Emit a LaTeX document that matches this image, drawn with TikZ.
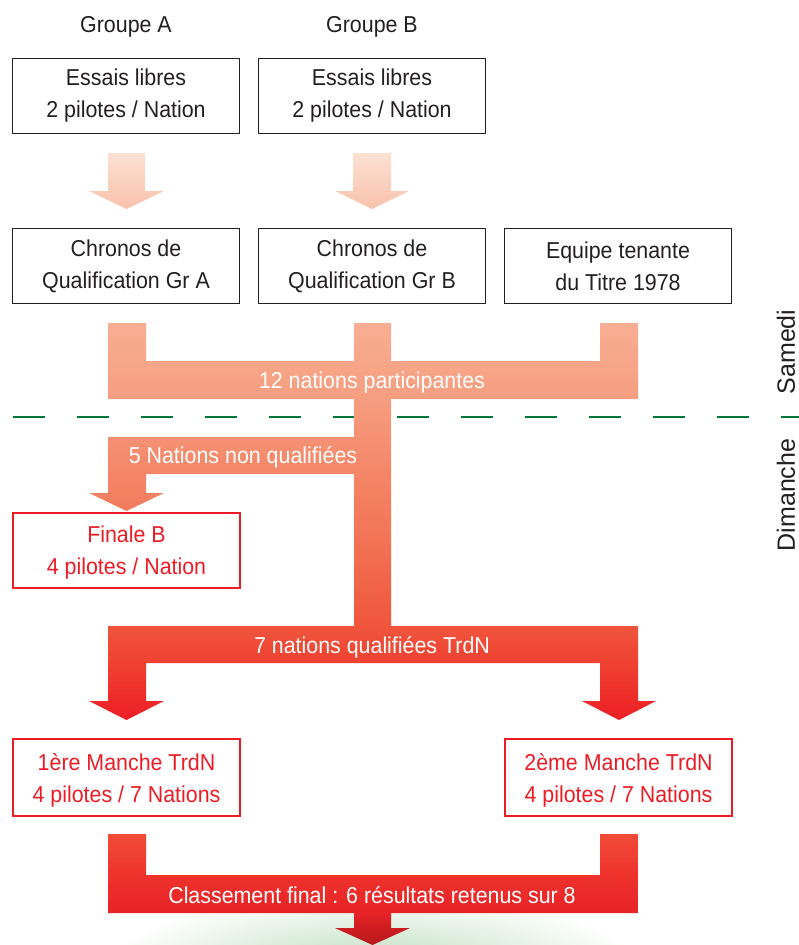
\documentclass[tikz,border=0pt]{standalone}
\usepackage{fontspec}
\setmainfont{Liberation Sans}[FakeStretch=0.93]
\newfontfamily\sidefont{Liberation Sans}
\definecolor{txt}{RGB}{35,31,32}
\definecolor{redc}{RGB}{237,28,36}
\definecolor{dashg}{RGB}{0,118,58}
\definecolor{glowg}{RGB}{185,220,185}
\definecolor{pa}{RGB}{252,224,210}
\definecolor{pb}{RGB}{248,194,172}
\definecolor{p1a}{RGB}{237,30,36}
\definecolor{p1b}{RGB}{239,65,50}
\definecolor{p1c}{RGB}{240,85,60}
\definecolor{p1d}{RGB}{242,112,82}
\definecolor{p1e}{RGB}{244,135,104}
\definecolor{p1f}{RGB}{246,157,127}
\definecolor{p1g}{RGB}{248,174,147}
\definecolor{p2a}{RGB}{185,25,30}
\definecolor{p2b}{RGB}{205,28,33}
\definecolor{p2c}{RGB}{232,35,38}
\definecolor{p2d}{RGB}{238,50,44}
\definecolor{p2e}{RGB}{241,75,57}
\pgfdeclareverticalshading{partone}{100bp}{color(0bp)=(p1a); color(25bp)=(p1a); color(32.18bp)=(p1b); color(36.84bp)=(p1c); color(46.41bp)=(p1d); color(56.49bp)=(p1e); color(65.3bp)=(p1f); color(75bp)=(p1g); color(100bp)=(p1g)}
\pgfdeclareverticalshading{parttwo}{100bp}{color(0bp)=(p2a); color(25bp)=(p2a); color(32.66bp)=(p2b); color(39.41bp)=(p2c); color(56.53bp)=(p2d); color(75bp)=(p2e); color(100bp)=(p2e)}
\tikzset{
  blackbox/.style={draw=txt, line width=1.5pt, minimum width=227pt, minimum height=75pt,
    align=center, text=txt, font=\fontsize{23}{32}\selectfont, inner sep=0pt},
  redbox/.style={blackbox, draw=redc, text=redc, line width=2pt},
  flowtxt/.style={text=white, font=\fontsize{23}{28}\selectfont, anchor=base, inner sep=0pt},
  grplbl/.style={text=txt, font=\fontsize{23}{28}\selectfont, anchor=base, inner sep=0pt},
  daylbl/.style={text=txt, font=\sidefont\fontsize{25}{30}\selectfont, rotate=90, inner sep=0pt},
  daysep/.style={draw=dashg, line width=2.8pt, dash pattern=on 32pt off 32pt}
}
\begin{document}
\begin{tikzpicture}[x=1pt,y=-1pt]
\useasboundingbox (0,0) rectangle (799,945);
% green glow
\begin{scope}
\clip (0,0) rectangle (799,945);
\shade[inner color=glowg, outer color=white] (374,972) ellipse [x radius=270pt, y radius=80pt];
\end{scope}
% day separator
\coordinate (sepL) at (12.8,417);
\coordinate (sepR) at (799,417);
\draw[daysep] (sepL) -- (sepR);
% group labels
\node[grplbl] (grpA) at (126,32) {Groupe A};
\node[grplbl] (grpB) at (372,32) {Groupe B};
% boxes
\node[blackbox] (essA) at (126,96) {Essais libres\\2 pilotes / Nation};
\node[blackbox] (essB) at (372,96) {Essais libres\\2 pilotes / Nation};
\node[blackbox] (chrA) at (126,266) {Chronos de\\Qualification Gr A};
\node[blackbox] (chrB) at (372,266) {Chronos de\\Qualification Gr B};
\node[blackbox] (equ) at (618,266) {Equipe tenante\\du Titre 1978};
\node[redbox] (finB) at (126.5,550) {\rule{0pt}{22.5pt}Finale B\\4 pilotes / Nation};
\node[redbox, minimum height=77pt] (man1) at (126.5,777) {\rule{0pt}{24pt}1ère Manche TrdN\\4 pilotes / 7 Nations};
\node[redbox, minimum height=77pt] (man2) at (618.5,777) {\rule{0pt}{24pt}2ème Manche TrdN\\4 pilotes / 7 Nations};
% small pale arrows
\shade[top color=pa, bottom color=pb]
  (108,153) -- (108,191) -- (89,191) -- (126.5,209) -- (164,191) -- (145,191) -- (145,153) -- cycle;
\shade[top color=pa, bottom color=pb]
  (353,153) -- (353,191) -- (335,191) -- (372,209) -- (409,191) -- (391,191) -- (391,153) -- cycle;
% main flow, upper part
\shade[shading=partone]
  (108,323) rectangle (146,362)
  (354,323) rectangle (391,627)
  (600,323) rectangle (638,362)
  (108,361) rectangle (638,399)
  (108,437) rectangle (391,474)
  (108,473) -- (108,493) -- (89,493) -- (126.5,511) -- (164,493) -- (146,493) -- (146,473) -- cycle
  (108,626) rectangle (638,663)
  (108,662) -- (108,701) -- (89,701) -- (126.5,720) -- (164,701) -- (146,701) -- (146,662) -- cycle
  (600,662) -- (600,701) -- (582,701) -- (619,720) -- (656,701) -- (638,701) -- (638,662) -- cycle;
% main flow, lower part
\shade[shading=parttwo]
  (108,834) rectangle (146,876)
  (600,834) rectangle (638,876)
  (108,875) rectangle (638,913)
  (354,912) -- (354,928) -- (335,928) -- (372.5,945) -- (410,928) -- (391,928) -- (391,912) -- cycle;
% flow texts
\node[flowtxt] (t12) at (372,388) {12 nations participantes};
\node[flowtxt] (t5) at (243,463) {5 Nations non qualifiées};
\node[flowtxt] (t7) at (372,653) {7 nations qualifiées TrdN};
\node[flowtxt] (tcl) at (372,903) {Classement final : 6 résultats retenus sur 8};
% day labels
\node[daylbl] (sam) at (786,352) {Samedi};
\node[daylbl] (dim) at (786,495) {Dimanche};
\end{tikzpicture}
\end{document}
